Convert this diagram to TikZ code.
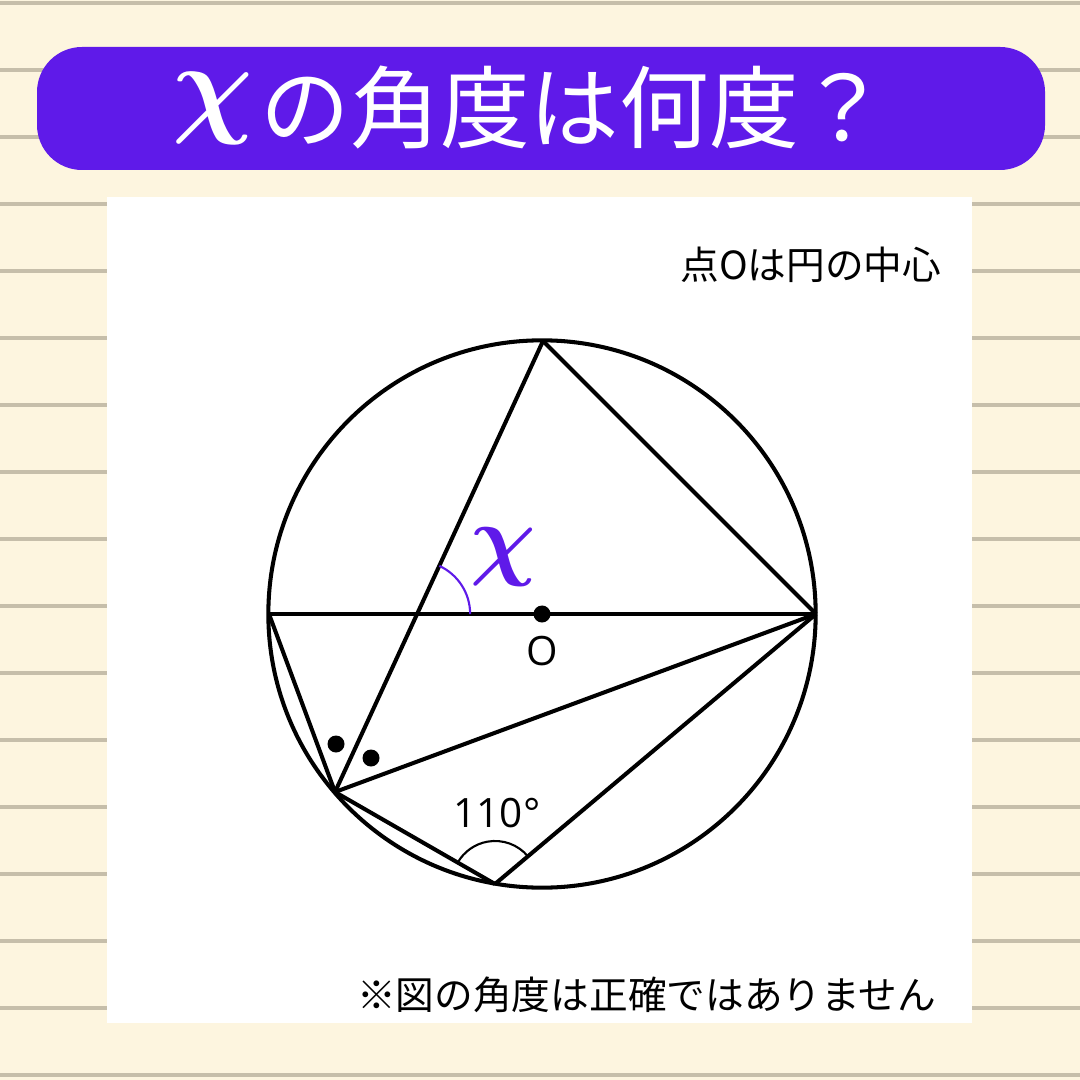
\documentclass[tikz,border=0pt]{standalone}
\usepackage{fontspec}
\usepackage{graphicx}
\setmainfont{Open Sans}
\newfontfamily\jpfont{Noto Sans CJK JP}
\usetikzlibrary{positioning, calc}
\definecolor{notecream}{HTML}{FDF5DF}
\definecolor{ruleline}{HTML}{C6BEAA}
\definecolor{quizpurple}{HTML}{5F1AE9}
\newcommand{\anglevar}[1]{\scalebox{#1}{\normalsize\boldmath$\chi$}}

\begin{document}
\begin{tikzpicture}[
  x=0.01cm, y=-0.01cm,
  figline/.style={line width=1.15pt, black},
  anglearc/.style={line width=0.6pt},
  dotmark/.style={circle, fill=black, inner sep=0pt, minimum size=0.17cm},
  notetext/.style={font=\jpfont\fontsize{11}{13}\selectfont, inner sep=0pt, anchor=east},
  numtext/.style={font=\fontsize{11.5}{13}\selectfont, inner sep=0pt}
]
  \useasboundingbox (0,0) rectangle (1080,1080);

  % Ruled paper
  \fill[notecream] (0,0) rectangle (1080,1080);
  \foreach \yy in {3,70,...,1075}
    \draw[ruleline, line width=1.15pt] (0,\yy) -- (1080,\yy);

  % Title banner
  \fill[quizpurple, rounded corners=0.45cm] (37,47) rectangle (1045,170);
  \node[text=white, inner sep=0pt] (titlex) at (213,108) {\anglevar{3.2}};
  \node[text=white, inner sep=0pt, font=\jpfont\fontsize{25.5}{28}\selectfont, right=0.06cm of titlex] (titlejp) {の角度は何度？};

  % Panel
  \fill[white] (107,197) rectangle (972,1023);
  \node[notetext] (centrenote) at (942,265) {点Oは円の中心};
  \node[notetext] (warnnote) at (937,995) {※図の角度は正確ではありません};

  % Points on the circle
  \coordinate (O) at (542,614);
  \coordinate (A) at (543,341);
  \coordinate (B) at (816,614);
  \coordinate (L) at (269,614);
  \coordinate (P) at (335,792);
  \coordinate (Q) at (495,884);
  \coordinate (X) at (intersection of A--P and L--B);

  % Figure
  \draw[figline] (O) circle[radius=2.735cm];
  \draw[figline] (L) -- (B);
  \draw[figline] (A) -- (B);
  \draw[figline] (A) -- (P);
  \draw[figline] (P) -- (B);
  \draw[figline] (Q) -- (B);
  \draw[figline] (L) -- (P) -- (Q);

  % Angle marks
  \draw[anglearc, quizpurple] ($(X)+(0.53cm,0)$) arc[start angle=0, end angle=65.2, radius=0.53cm];
  \draw[anglearc] ($(Q)+(40.1:0.43cm)$) arc[start angle=40.1, end angle=150.1, radius=0.43cm];
  \node[dotmark] (centredot) at (O) {};
  \node[dotmark] (dotone) at (336,744) {};
  \node[dotmark] (dottwo) at (371,758) {};

  % Labels
  \node[numtext] (olabel) at (542,651) {O};
  \node[numtext] (anglelabel) at (497,813) {110°};
  \node[text=quizpurple, inner sep=0pt] (xlabel) at (503,557) {\anglevar{2.6}};
\end{tikzpicture}
\end{document}
